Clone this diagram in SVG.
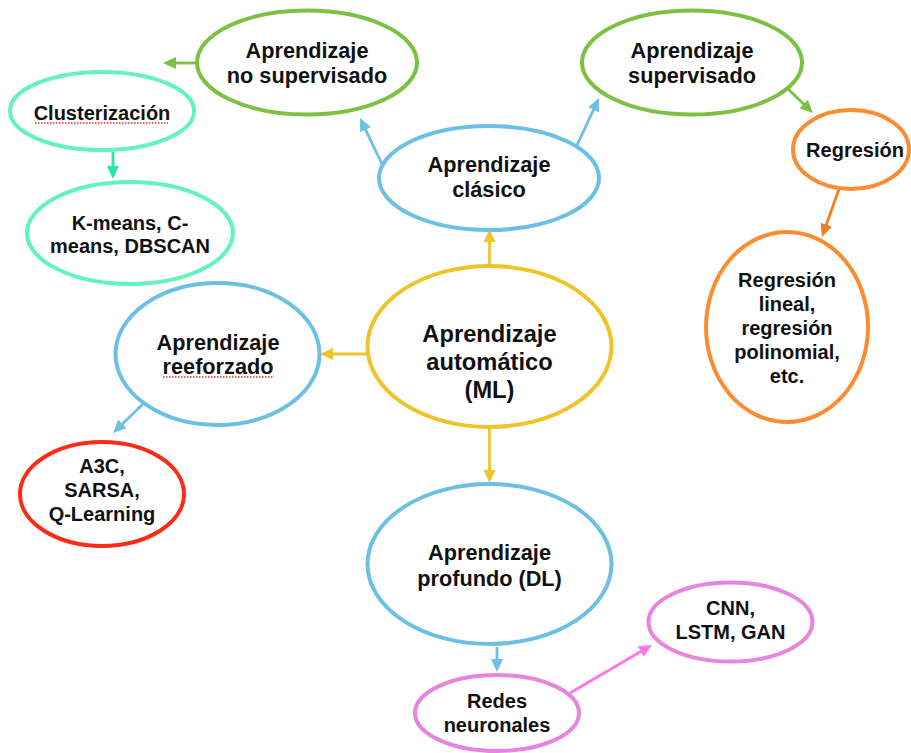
<svg xmlns="http://www.w3.org/2000/svg" width="911" height="753" viewBox="0 0 911 753">
<style>
  .n { fill: #ffffff; stroke-width: 4; }
  .t { font-family: "Liberation Sans", Arial, Helvetica, sans-serif; font-weight: bold; fill: #111111; text-anchor: middle; }
  .big { font-size: 21.7px; }
  .ml { font-size: 23.7px; }
  .sm { font-size: 20px; }
  .c { fill: none; stroke-width: 2.8; }
  .sq { fill: none; stroke: #e03030; stroke-width: 1.3; stroke-dasharray: 1.5 1.5; }
  .green { stroke: #7cc142; }
  .teal { stroke: #62f2c4; }
  .blue { stroke: #6cc0e3; }
  .yellow { stroke: #eec42a; }
  .orange { stroke: #fd8b30; }
  .red { stroke: #fb2b14; }
  .pink { stroke: #e785de; }
</style>
<defs>
  <marker id="aY" markerUnits="userSpaceOnUse" markerWidth="13" markerHeight="12" refX="4" refY="6" orient="auto"><path d="M0,0 L13,6 L0,12 z" fill="#eec42a"/></marker>
  <marker id="aB" markerUnits="userSpaceOnUse" markerWidth="13" markerHeight="12" refX="4" refY="6" orient="auto"><path d="M0,0 L13,6 L0,12 z" fill="#6cc0e3"/></marker>
  <marker id="aG" markerUnits="userSpaceOnUse" markerWidth="13" markerHeight="12" refX="4" refY="6" orient="auto"><path d="M0,0 L13,6 L0,12 z" fill="#7cc142"/></marker>
  <marker id="aT" markerUnits="userSpaceOnUse" markerWidth="13" markerHeight="12" refX="4" refY="6" orient="auto"><path d="M0,0 L13,6 L0,12 z" fill="#22e8a2"/></marker>
  <marker id="aO" markerUnits="userSpaceOnUse" markerWidth="13" markerHeight="12" refX="4" refY="6" orient="auto"><path d="M0,0 L13,6 L0,12 z" fill="#f0801f"/></marker>
  <marker id="aP" markerUnits="userSpaceOnUse" markerWidth="13" markerHeight="12" refX="4" refY="6" orient="auto"><path d="M0,0 L13,6 L0,12 z" fill="#ff74f0"/></marker>
</defs>
<rect width="911" height="753" fill="#ffffff"/>

<g id="connectors">
  <line class="c" stroke="#eec42a" x1="489.5" y1="266" x2="489.5" y2="238" marker-end="url(#aY)"/>
  <line class="c" stroke="#eec42a" x1="367" y1="354" x2="329" y2="354" marker-end="url(#aY)"/>
  <line class="c" stroke="#eec42a" x1="489.5" y1="428" x2="489.5" y2="474" marker-end="url(#aY)"/>
  <line class="c" stroke="#6cc0e3" x1="382" y1="164" x2="363.9" y2="126.1" marker-end="url(#aB)"/>
  <line class="c" stroke="#6cc0e3" x1="577" y1="145" x2="595.2" y2="106.2" marker-end="url(#aB)"/>
  <line class="c" stroke="#7cc142" x1="197" y1="63" x2="172" y2="63" marker-end="url(#aG)"/>
  <line class="c" stroke="#22e8a2" x1="113" y1="152" x2="113" y2="170" marker-end="url(#aT)"/>
  <line class="c" stroke="#7cc142" x1="788" y1="89" x2="806.5" y2="106.8" marker-end="url(#aG)"/>
  <line class="c" stroke="#f0801f" x1="839" y1="189" x2="825" y2="228.5" marker-end="url(#aO)"/>
  <line class="c" stroke="#6cc0e3" x1="143" y1="404" x2="119.5" y2="426.7" marker-end="url(#aB)"/>
  <line class="c" stroke="#6cc0e3" x1="497" y1="647" x2="497" y2="663" marker-end="url(#aB)"/>
  <line class="c" stroke="#ff74f0" x1="570" y1="693" x2="644.2" y2="649.5" marker-end="url(#aP)"/>
</g>

<g id="no-supervisado">
  <ellipse class="n green" cx="307" cy="62.5" rx="110" ry="52"/>
  <text class="t big" x="307" y="58">Aprendizaje</text>
  <text class="t big" x="307" y="83">no supervisado</text>
</g>

<g id="clusterizacion">
  <ellipse class="n teal" cx="102" cy="111" rx="92" ry="39"/>
  <text class="t sm" x="102" y="120">Clusterización</text>
  <line class="sq" x1="35" y1="123" x2="168" y2="123"/>
</g>

<g id="kmeans">
  <ellipse class="n teal" cx="130" cy="233" rx="103" ry="51"/>
  <text class="t sm" x="130" y="230">K-means, C-</text>
  <text class="t sm" x="130" y="253">means, DBSCAN</text>
</g>

<g id="clasico">
  <ellipse class="n blue" cx="489" cy="178" rx="110" ry="52"/>
  <text class="t big" x="489" y="172">Aprendizaje</text>
  <text class="t big" x="489" y="197">clásico</text>
</g>

<g id="supervisado">
  <ellipse class="n green" cx="692" cy="62.5" rx="110" ry="52"/>
  <text class="t big" x="692" y="58">Aprendizaje</text>
  <text class="t big" x="692" y="83">supervisado</text>
</g>

<g id="regresion">
  <ellipse class="n orange" cx="851" cy="149.5" rx="58" ry="39.5"/>
  <text class="t sm" x="855" y="157">Regresión</text>
</g>

<g id="regresion-tipos">
  <ellipse class="n orange" cx="787" cy="327" rx="81" ry="95"/>
  <text class="t sm" x="787" y="287">Regresión</text>
  <text class="t sm" x="787" y="311">lineal,</text>
  <text class="t sm" x="787" y="335">regresión</text>
  <text class="t sm" x="787" y="359">polinomial,</text>
  <text class="t sm" x="787" y="383">etc.</text>
</g>

<g id="ml">
  <ellipse class="n yellow" cx="489.5" cy="346.5" rx="122" ry="80.5"/>
  <text class="t ml" x="489.5" y="342">Aprendizaje</text>
  <text class="t ml" x="489.5" y="370">automático</text>
  <text class="t ml" x="489.5" y="398">(ML)</text>
</g>

<g id="reeforzado">
  <ellipse class="n blue" cx="217.5" cy="354" rx="102" ry="71"/>
  <text class="t big" x="218" y="350">Aprendizaje</text>
  <text class="t big" x="218" y="374">reeforzado</text>
  <line class="sq" x1="163" y1="377" x2="273" y2="377"/>
</g>

<g id="a3c">
  <ellipse class="n red" cx="102" cy="494" rx="82" ry="52"/>
  <text class="t sm" x="102" y="473">A3C,</text>
  <text class="t sm" x="102" y="497">SARSA,</text>
  <text class="t sm" x="102" y="521">Q-Learning</text>
</g>

<g id="dl">
  <ellipse class="n blue" cx="489.5" cy="564" rx="122" ry="80"/>
  <text class="t big" x="489.5" y="560">Aprendizaje</text>
  <text class="t big" x="489.5" y="586">profundo (DL)</text>
</g>

<g id="redes">
  <ellipse class="n pink" cx="497" cy="713" rx="82" ry="38"/>
  <text class="t sm" x="497" y="708">Redes</text>
  <text class="t sm" x="497" y="732">neuronales</text>
</g>

<g id="cnn">
  <ellipse class="n pink" cx="730.5" cy="622" rx="82" ry="39.5"/>
  <text class="t sm" x="730.5" y="615">CNN,</text>
  <text class="t sm" x="730.5" y="639">LSTM, GAN</text>
</g>
</svg>
